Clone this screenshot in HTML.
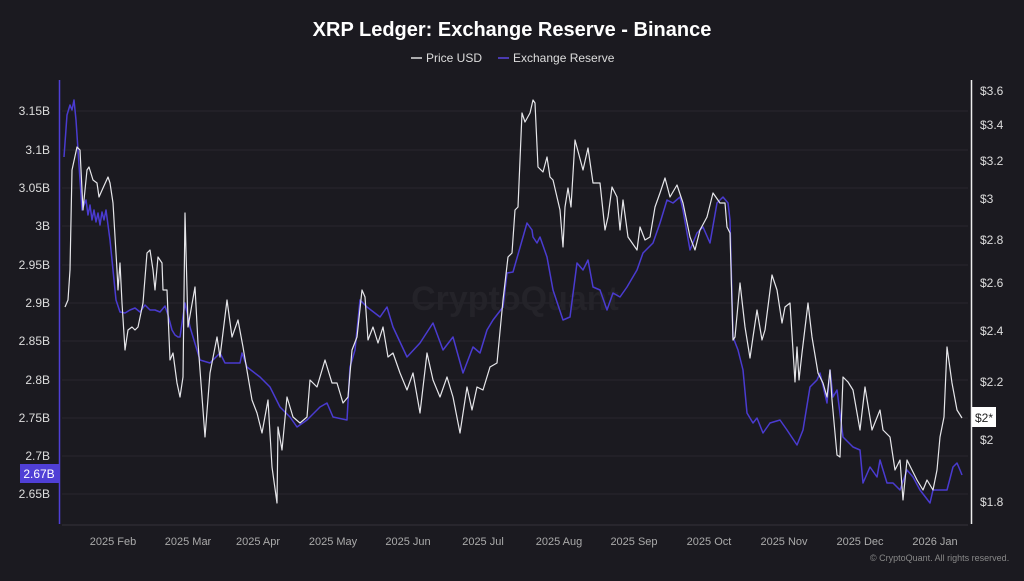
<!DOCTYPE html>
<html><head><meta charset="utf-8"><style>
body{margin:0;background:#1b1a20;width:1024px;height:576px;overflow:hidden;font-family:"Liberation Sans",sans-serif}
</style></head><body>
<svg width="1024" height="576" xmlns="http://www.w3.org/2000/svg" font-family="Liberation Sans, sans-serif">
<rect width="1024" height="576" fill="#1b1a20"/>
<text x="512" y="36" fill="#fff" font-size="20" font-weight="bold" text-anchor="middle">XRP Ledger: Exchange Reserve - Binance</text>
<line x1="411" y1="58" x2="422" y2="58" stroke="#ddd" stroke-width="1.5"/>
<text x="426" y="62" fill="#ddd" font-size="12">Price USD</text>
<line x1="498" y1="58" x2="509" y2="58" stroke="#5a45e0" stroke-width="1.5"/>
<text x="513" y="62" fill="#ddd" font-size="12">Exchange Reserve</text>
<g stroke="#28272e" stroke-width="1">
<line x1="62" y1="111" x2="968" y2="111"/><line x1="62" y1="150" x2="968" y2="150"/><line x1="62" y1="188" x2="968" y2="188"/><line x1="62" y1="226" x2="968" y2="226"/><line x1="62" y1="265" x2="968" y2="265"/><line x1="62" y1="303" x2="968" y2="303"/><line x1="62" y1="341" x2="968" y2="341"/><line x1="62" y1="380" x2="968" y2="380"/><line x1="62" y1="418" x2="968" y2="418"/><line x1="62" y1="456" x2="968" y2="456"/><line x1="62" y1="494" x2="968" y2="494"/>
</g>
<line x1="62" y1="525" x2="968" y2="525" stroke="#34333a"/>
<text x="515" y="310" fill="#242329" font-size="34" text-anchor="middle" font-weight="bold">CryptoQuant</text>
<line x1="59.5" y1="80" x2="59.5" y2="524" stroke="#4f3fd6" stroke-width="1.5"/>
<line x1="971.5" y1="80" x2="971.5" y2="524" stroke="#eee" stroke-width="1.5"/>
<g fill="#ddd" font-size="12" text-anchor="end">
<text x="50" y="115">3.15B</text><text x="50" y="154">3.1B</text><text x="50" y="192">3.05B</text><text x="50" y="230">3B</text><text x="50" y="269">2.95B</text><text x="50" y="307">2.9B</text><text x="50" y="345">2.85B</text><text x="50" y="384">2.8B</text><text x="50" y="422">2.75B</text><text x="50" y="460">2.7B</text><text x="50" y="498">2.65B</text>
</g>
<rect x="20" y="464" width="39" height="19" fill="#4f3fd6"/>
<text x="39" y="478" fill="#fff" font-size="12" text-anchor="middle">2.67B</text>
<g fill="#ddd" font-size="12">
<text x="980" y="95">$3.6</text><text x="980" y="129">$3.4</text><text x="980" y="165">$3.2</text><text x="980" y="203">$3</text><text x="980" y="244">$2.8</text><text x="980" y="287">$2.6</text><text x="980" y="335">$2.4</text><text x="980" y="386">$2.2</text><text x="980" y="444">$2</text><text x="980" y="506">$1.8</text>
</g>
<rect x="972" y="407" width="24" height="20" fill="#fff"/>
<text x="975" y="422" fill="#222" font-size="12">$2*</text>
<g fill="#aaa" font-size="11" text-anchor="middle">
<text x="113" y="545">2025 Feb</text><text x="188" y="545">2025 Mar</text><text x="258" y="545">2025 Apr</text><text x="333" y="545">2025 May</text><text x="408" y="545">2025 Jun</text><text x="483" y="545">2025 Jul</text><text x="559" y="545">2025 Aug</text><text x="634" y="545">2025 Sep</text><text x="709" y="545">2025 Oct</text><text x="784" y="545">2025 Nov</text><text x="860" y="545">2025 Dec</text><text x="935" y="545">2026 Jan</text>
</g>
<text x="870" y="561" fill="#888" font-size="9">© CryptoQuant. All rights reserved.</text>
<polyline fill="none" stroke="#4a3bd0" stroke-width="1.5" stroke-linejoin="round" points="64,157 67,115 70,105 72,110 74,100 76,120 78,150 80,180 82,210 84,205 86,200 88,215 90,205 92,220 94,210 96,222 98,213 100,225 102,212 104,220 106,210 108,225 110,240 112,260 114,280 116,300 120,312 125,313 130,310 135,308 140,312 145,305 150,310 155,310 160,312 165,306 168,315 172,330 175,335 178,337 180,337 185,303 190,327 200,360 210,363 220,353 225,363 240,363 242,353 247,367 260,377 270,387 280,407 290,417 297,427 307,420 320,407 327,403 333,417 347,420 350,367 355,350 360,300 367,307 380,317 387,307 393,327 407,357 420,343 433,323 443,350 453,337 463,373 473,347 480,353 487,330 493,320 503,307 507,273 513,272 527,223 532,230 533,237 537,243 540,237 547,257 553,290 563,320 570,317 577,263 583,270 588,260 593,287 600,290 607,310 613,293 620,297 627,287 637,270 643,253 653,243 660,223 667,200 673,203 680,197 683,210 690,250 697,233 703,227 710,243 717,203 723,197 728,203 730,220 733,337 738,350 743,370 747,413 753,423 757,418 763,433 770,423 780,420 787,430 797,445 803,430 810,387 817,380 820,373 827,403 830,370 833,397 837,390 843,437 853,447 860,450 863,483 870,467 877,477 880,460 887,483 893,483 900,490 907,470 913,477 920,490 930,503 933,490 947,490 953,467 957,463 960,470 962,475"/>
<polyline fill="none" stroke="#e6e6ea" stroke-width="1.2" stroke-linejoin="round" points="65,307 68,300 70,270 72,170 77,147 80,150 83,210 87,170 89,167 93,180 97,183 99,197 103,188 108,177 110,183 113,203 117,270 118,290 120,263 122,303 125,350 128,330 132,327 135,330 138,327 143,303 147,253 150,250 153,270 155,290 158,257 162,263 163,290 167,290 170,360 173,353 177,383 180,397 183,377 185,213 188,327 195,287 198,343 205,437 210,373 217,337 220,357 227,300 232,337 238,320 243,347 252,400 257,413 262,433 268,400 272,467 277,503 278,427 282,450 287,397 293,417 300,423 307,417 310,380 317,387 325,360 332,383 337,383 343,403 348,397 352,350 357,337 362,290 365,297 368,340 373,327 378,343 383,327 388,357 393,353 400,373 407,390 413,373 420,413 427,353 433,380 440,397 447,377 453,397 460,433 467,387 472,410 477,387 483,390 490,367 497,363 503,300 508,257 512,253 515,210 518,207 522,113 525,122 530,113 533,100 535,103 538,167 543,172 547,157 550,177 553,180 560,210 563,247 565,207 568,188 571,207 575,140 583,170 588,148 593,183 600,183 605,230 608,217 612,187 617,197 620,230 623,200 628,237 637,250 640,227 645,240 650,237 655,207 660,193 665,178 670,197 677,185 683,203 690,237 695,250 700,230 707,217 713,193 720,203 725,203 727,227 730,233 733,340 735,337 740,283 745,327 750,358 753,337 757,310 762,340 765,330 772,275 777,290 782,323 785,307 790,303 795,382 797,347 799,380 802,353 808,303 812,337 818,373 823,383 827,397 830,370 832,400 837,455 840,457 843,377 848,382 853,390 860,430 865,387 872,430 880,410 883,430 890,437 895,470 900,460 903,500 907,460 917,480 923,490 927,480 933,490 937,470 940,437 944,417 947,347 952,383 957,410 962,418"/>
</svg>
</body></html>
